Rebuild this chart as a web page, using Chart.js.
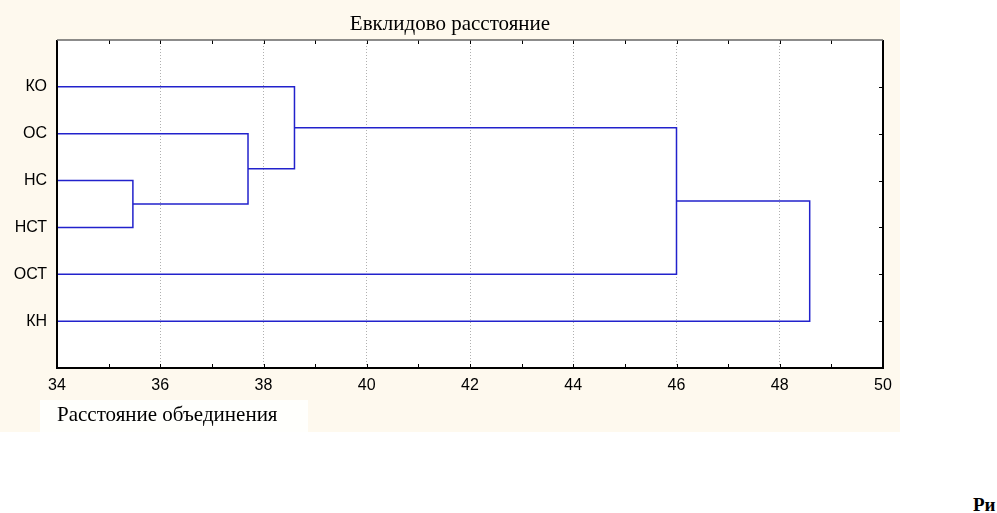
<!DOCTYPE html>
<html>
<head>
<meta charset="utf-8">
<script src="https://cdn.jsdelivr.net/npm/chart.js@4/dist/chart.umd.min.js"></script>
<style>
  body { margin: 0; background: #fff; width: 997px; height: 513px; overflow: hidden; position: relative; }
  #wrap { position: absolute; left: 0; top: 0; width: 900px; height: 432px; background: #fef9ee; }
  #note { position: absolute; left: 973px; top: 495px; font: bold 19px "Liberation Serif", serif; line-height: 1; white-space: nowrap; }
</style>
</head>
<body>
<div id="wrap"><canvas id="dendro" width="900" height="432"></canvas></div>
<div id="note">Ри</div>
<script>
// leaves, top to bottom
const leaves = ["КО", "ОС", "НС", "НСТ", "ОСТ", "КН"];
// joins: C1..C5 are the clusters formed in order
const joinLeft = ["НС", "ОС", "КО", "C3", "C4"];
const joinRight = ["НСТ", "C1", "C2", "ОСТ", "КН"];
const joinDist = [35.47, 37.70, 38.60, 46.00, 48.58];
const xMin = 34;
const xMax = 50;
const xStep = 2;

const lineColor = "#2222cc";

const pos = {};
leaves.forEach((n, i) => { pos[n] = { x: xMin, y: i + 1 }; });

const datasets = [];
joinDist.forEach((d, k) => {
  const a = pos[joinLeft[k]];
  const b = pos[joinRight[k]];
  datasets.push({
    data: [
      { x: a.x, y: a.y },
      { x: d, y: a.y },
      { x: d, y: b.y },
      { x: b.x, y: b.y }
    ],
    showLine: true,
    borderColor: lineColor,
    borderWidth: 1.5,
    pointRadius: 0,
    tension: 0
  });
  pos["C" + (k + 1)] = { x: d, y: (a.y + b.y) / 2 };
});

const framePlugin = {
  id: "frame",
  beforeDraw(chart) {
    const ctx = chart.ctx;
    ctx.save();
    ctx.fillStyle = "#fffffc";
    ctx.fillRect(40, 400, 268, 32);
    ctx.fillStyle = "#ffffff";
    const a = chart.chartArea;
    ctx.fillRect(a.left, a.top, a.right - a.left, a.bottom - a.top);
    ctx.restore();
  },
  afterDraw(chart) {
    const ctx = chart.ctx;
    const a = chart.chartArea;
    const x = chart.scales.x;
    const y = chart.scales.y;
    ctx.save();
    ctx.strokeStyle = "#000";
    ctx.lineWidth = 1;
    ctx.beginPath();
    for (let v = xMin + 1; v < xMax; v++) {
      const px = Math.round(x.getPixelForValue(v)) + 0.5;
      ctx.moveTo(px, a.top);
      ctx.lineTo(px, a.top + 4);
      ctx.moveTo(px, a.bottom);
      ctx.lineTo(px, a.bottom - 4);
    }
    leaves.forEach((_, i) => {
      const py = Math.round(y.getPixelForValue(i + 1)) + 0.5;
      ctx.moveTo(a.right, py);
      ctx.lineTo(a.right - 4, py);
    });
    ctx.stroke();

    ctx.lineWidth = 2;
    ctx.beginPath();
    ctx.moveTo(a.left, a.top);
    ctx.lineTo(a.left, a.bottom);
    ctx.lineTo(a.right, a.bottom);
    ctx.lineTo(a.right, a.top);
    ctx.stroke();
    ctx.strokeStyle = "#666";
    ctx.lineWidth = 1.5;
    ctx.beginPath();
    ctx.moveTo(a.left, a.top);
    ctx.lineTo(a.right, a.top);
    ctx.stroke();
    ctx.restore();
  }
};

new Chart(document.getElementById("dendro"), {
  type: "scatter",
  data: { datasets: datasets },
  options: {
    responsive: false,
    animation: false,
    layout: { padding: 0 },
    plugins: {
      legend: { display: false },
      tooltip: { enabled: false },
      title: {
        display: true,
        text: "Евклидово расстояние",
        color: "#000",
        font: { family: "Liberation Serif", size: 21, weight: "normal" },
        padding: { top: 12, bottom: 2.8 }
      }
    },
    scales: {
      x: {
        type: "linear",
        min: xMin,
        max: xMax,
        ticks: {
          stepSize: xStep,
          color: "#000",
          font: { family: "Liberation Sans", size: 16 },
          padding: 8,
          maxRotation: 0
        },
        grid: {
          drawTicks: false,
          color: (c) => (c.tick && (c.tick.value === xMin || c.tick.value === xMax)) ? "rgba(0,0,0,0)" : "#b0b0b0",
          lineWidth: 1
        },
        border: { display: false, dash: [1, 2] },
        title: {
          display: true,
          text: "Расстояние объединения",
          align: "start",
          color: "#000",
          font: { family: "Liberation Serif", size: 21 },
          padding: { top: 8, bottom: 4 }
        },
        afterFit: (s) => { s.height = 64; }
      },
      y: {
        type: "linear",
        min: 0,
        max: 7,
        reverse: true,
        afterBuildTicks: (s) => { s.ticks = leaves.map((_, i) => ({ value: i + 1 })); },
        ticks: {
          color: "#000",
          font: { family: "Liberation Sans", size: 16 },
          padding: 10,
          callback: (v) => leaves[v - 1] ?? ""
        },
        grid: { display: false, drawTicks: false },
        border: { display: false },
        afterFit: (s) => { s.width = 57; }
      },
      // empty right-hand margin so the plot ends where the original does
      yRight: {
        type: "linear",
        position: "right",
        min: 0,
        max: 7,
        ticks: { display: false },
        grid: { display: false, drawTicks: false },
        border: { display: false },
        afterFit: (s) => { s.width = 17; }
      }
    }
  },
  plugins: [framePlugin]
});
</script>
</body>
</html>
